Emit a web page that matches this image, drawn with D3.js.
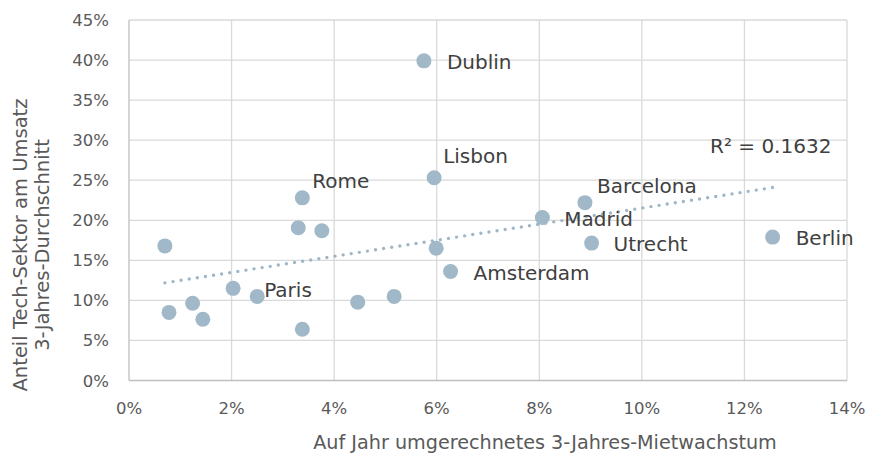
<!DOCTYPE html>
<html>
<head>
<meta charset="utf-8">
<script src="https://cdn.jsdelivr.net/npm/d3@7"></script>
<style>
  body { margin: 0; background: #fff; }
  text { font-family: "DejaVu Sans", sans-serif; }
</style>
</head>
<body>
<svg width="880" height="460"></svg>
<script>
// Mietwachstum (x) und Tech-Anteil (y), je Stadt
var cities = ["Dublin", "Lisbon", "Rome", "Barcelona", "Madrid", "", "", "", "Utrecht", "Berlin",
              "Amsterdam", "", "", "Paris", "", "", "", "", "", ""];
var rentGrowth = [0.0575, 0.0595, 0.0338, 0.0889, 0.0806, 0.0330, 0.0376, 0.0070, 0.0902, 0.1255,
                  0.0627, 0.0599, 0.0203, 0.0250, 0.0078, 0.0124, 0.0144, 0.0338, 0.0446, 0.0517];
var techShare = [0.399, 0.253, 0.228, 0.222, 0.2035, 0.1906, 0.187, 0.168, 0.1715, 0.179,
                 0.136, 0.165, 0.115, 0.105, 0.085, 0.0965, 0.0765, 0.064, 0.0978, 0.105];
// label offsets from the point (px)
var labelDx = [23, 9, 10, 12, 22, 0, 0, 0, 22, 23, 23, 0, 0, 7, 0, 0, 0, 0, 0, 0];
var labelDy = [8, -15, -10, -10, 9, 0, 0, 0, 8, 8, 8, 0, 0, 1, 0, 0, 0, 0, 0, 0];

var xTicks = [0, 0.02, 0.04, 0.06, 0.08, 0.10, 0.12, 0.14];
var yTicks = [0, 0.05, 0.10, 0.15, 0.20, 0.25, 0.30, 0.35, 0.40, 0.45];

var svg = d3.select("svg");

var x = d3.scaleLinear().domain([0, 0.14]).range([129, 847]);
var y = d3.scaleLinear().domain([0, 0.45]).range([380.5, 20]);

var pts = rentGrowth.map(function(d, i) {
  return { x: d, y: techShare[i], name: cities[i], dx: labelDx[i], dy: labelDy[i] };
});

// grid
svg.append("g").selectAll("line.h")
  .data(yTicks.slice(1)).enter().append("line")
  .attr("x1", x(0)).attr("x2", x(0.14))
  .attr("y1", d => y(d)).attr("y2", d => y(d))
  .style("stroke", "#d9d9d9").style("stroke-width", 1.3);
svg.append("g").selectAll("line.v")
  .data(xTicks.slice(1)).enter().append("line")
  .attr("y1", y(0)).attr("y2", y(0.45))
  .attr("x1", d => x(d)).attr("x2", d => x(d))
  .style("stroke", "#d9d9d9").style("stroke-width", 1.3);

// axis lines
svg.append("line").attr("x1", x(0)).attr("x2", x(0)).attr("y1", y(0)).attr("y2", y(0.45))
  .style("stroke", "#bfbfbf").style("stroke-width", 1.3);
svg.append("line").attr("x1", x(0)).attr("x2", x(0.14)).attr("y1", y(0)).attr("y2", y(0))
  .style("stroke", "#bfbfbf").style("stroke-width", 1.3);

// tick labels
var pct = d3.format(".0%");
svg.append("g").selectAll("text")
  .data(xTicks).enter().append("text")
  .attr("x", d => x(d)).attr("y", 414)
  .attr("text-anchor", "middle")
  .style("font-size", "16.5px").style("fill", "#595959")
  .text(pct);
svg.append("g").selectAll("text")
  .data(yTicks).enter().append("text")
  .attr("x", 109).attr("y", d => y(d) + 6)
  .attr("text-anchor", "end")
  .style("font-size", "16.5px").style("fill", "#595959")
  .text(pct);

// axis titles
svg.append("text")
  .attr("x", 545).attr("y", 449)
  .attr("text-anchor", "middle")
  .style("font-size", "19.2px").style("fill", "#595959")
  .text("Auf Jahr umgerechnetes 3-Jahres-Mietwachstum");

var yt = svg.append("text")
  .attr("transform", "translate(0,245) rotate(-90)")
  .attr("text-anchor", "middle")
  .style("font-size", "19.5px").style("fill", "#595959");
yt.append("tspan").attr("x", 0).attr("y", 27).text("Anteil Tech-Sektor am Umsatz");
yt.append("tspan").attr("x", 0).attr("y", 49).text("3-Jahres-Durchschnitt");

// linear trend (least squares)
var mx = d3.mean(rentGrowth), my = d3.mean(techShare);
var sxy = d3.sum(pts, d => (d.x - mx) * (d.y - my));
var sxx = d3.sum(pts, d => (d.x - mx) * (d.x - mx));
var slope = sxy / sxx, icpt = my - slope * mx;
var x0 = d3.min(rentGrowth), x1 = d3.max(rentGrowth);
svg.append("line")
  .attr("x1", x(x0)).attr("y1", y(icpt + slope * x0))
  .attr("x2", x(x1)).attr("y2", y(icpt + slope * x1))
  .style("stroke", "#9fb6c6").style("stroke-width", 3.4)
  .style("stroke-linecap", "round").style("stroke-dasharray", "0 8.2");

// points
svg.append("g").selectAll("circle")
  .data(pts).enter().append("circle")
  .attr("cx", d => x(d.x)).attr("cy", d => y(d.y)).attr("r", 7.5)
  .style("fill", "#a0b8c8");

// city labels
svg.append("g").selectAll("text")
  .data(pts.filter(d => d.name)).enter().append("text")
  .attr("x", d => x(d.x) + d.dx).attr("y", d => y(d.y) + d.dy)
  .style("font-size", "20px").style("fill", "#404040")
  .text(d => d.name);

svg.append("text")
  .attr("x", 710).attr("y", 153)
  .style("font-size", "20px").style("fill", "#404040")
  .text("R² = 0.1632");
</script>
</body>
</html>
